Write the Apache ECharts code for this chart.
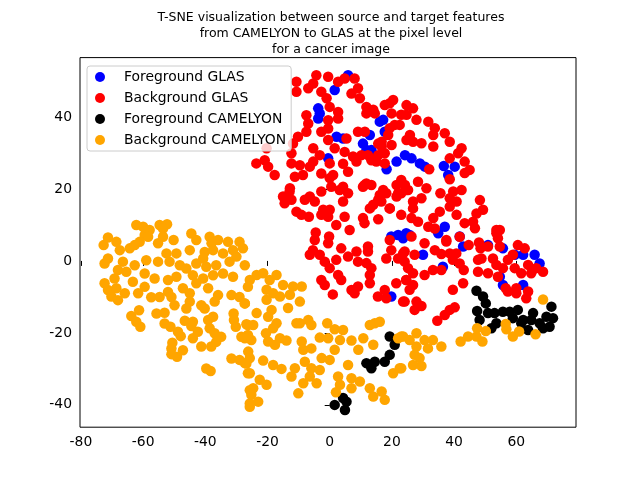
<!DOCTYPE html>
<html><head><meta charset="utf-8">
<script src="https://cdn.jsdelivr.net/npm/echarts@6/dist/echarts.min.js"></script>
<style>html,body{margin:0;padding:0;background:#fff}#c{width:640px;height:480px}</style>
</head><body><div id="c"></div>
<script>
const titleLines = ["T-SNE visualization between source and target features","from CAMELYON to GLAS at the pixel level","for a cancer image"];
const seriesNames = ["Foreground GLAS","Background GLAS","Foreground CAMELYON","Background CAMELYON"];
const seriesColors = ["#0000ff","#ff0000","#000000","#ffa500"];
const xTicks = [-80,-60,-40,-20,0,20,40,60];
const yTicks = [-40,-20,0,20,40];
const foregroundGlas = [[25.7,7.2],[23.6,6.3],[42.9,4],[50.9,4.4],[55.7,3.5],[59.5,1.7],[62.2,1.7],[65.9,1.7],[67.5,-0.7],[54.7,-4.4],[55.7,-6.7],[62.2,-6.7],[36.4,-1.6],[30,1.7],[19.8,6.8],[22,7.2],[24.6,7.7],[19.8,-9.9],[-3.7,42.4],[-3.7,39.6],[-3.2,41],[2.2,34.5],[4.3,34],[10.7,32.6],[11.8,30.8],[13.4,30.8],[-0.5,28.5],[5.9,51.6],[1.6,47.5],[16.1,38.7],[17.2,39.2],[17.7,35.9],[12.9,35],[13.4,30.4],[18.3,25.5],[21.5,27.6],[24.2,29.4],[26.3,28.5],[29,27.1],[30.6,26.2],[36.7,26.4],[38.1,23.9],[40.2,26.2],[37,9.5],[34.9,7.7],[41.8,6.8]];
const backgroundGlas = [[-10.7,49.8],[-10.7,47],[-6.9,48],[-4.3,51.6],[-5.3,49.3],[-0.5,51.2],[2.7,49.8],[4.8,50.7],[8,50.7],[9.1,48],[-2.7,47],[-1,45.2],[0,42.8],[2.7,41.4],[2.7,39.6],[-0.5,39.1],[-2.7,35.9],[-0.5,36.8],[7,46.5],[9.7,45.2],[11.8,42.8],[11.8,41],[14.5,41],[-7.5,40.5],[-6.9,38.2],[-7.5,35.9],[-10.2,34.5],[-11.8,32.6],[-20.3,31.3],[-20.9,28],[-23.6,27.1],[-19.8,26.2],[-17.7,23.9],[-12.3,29.9],[-12.3,27.1],[-9.6,26.6],[-11.2,23.4],[-8.6,23.9],[-5.3,31.3],[-5.3,27.6],[-6.4,26.2],[-3.2,29.4],[-2.7,24.3],[0,27.1],[1.1,23.9],[0,23],[5.4,34],[-0.5,33.6],[1.6,31.3],[4.8,30.3],[7.5,29],[10.2,29.4],[8.6,27.6],[5.9,24.8],[4.3,27],[9.1,35.9],[11.3,35.9],[15.6,32.6],[15.6,29.4],[12.3,29.4],[11.8,21.5],[10.7,20.6],[-12.8,20.2],[4.3,20.6],
[19.3,43.8],[17.7,43.3],[20.4,44.7],[19.9,41],[14,42],[24.7,43.3],[26.8,42.4],[27.9,39.2],[24.7,40.6],[23,40.6],[20.9,37.8],[19.3,36.9],[22.5,37.8],[31.7,38.7],[33.8,36.9],[37,35.5],[38.6,33.1],[33.3,35],[25.8,35],[26.8,33.1],[29.5,32.7],[33.3,31.8],[24.7,33.6],[18.8,35],[16.7,33.1],[19.9,32.2],[17.7,29.9],[16.7,31.8],[13.4,28],[15,27.6],[17.7,27.1],[42.4,31.3],[41.3,29.9],[43.4,27.6],[38.6,28.5],[45,25.3],[43.4,24.4],[32,25.5],[38.6,22.7],[13.4,21.1],[17.2,19.7],[15.6,17],[14,15.6],[23,22.5],[21.5,21.1],[24.2,21.1],[21.5,17.9],[19.3,14.6],[23,18.8],[25.2,19.7],[28.4,22],[31.1,20.2],[29.5,17.4],[26.8,16.5],[26.8,14.6],[35.6,18.8],[38.6,17.4],[42.4,19.7],[39.7,19.3],[40.8,16.5],[38.6,15.1],[15.6,11.6],[23,12.8],[26.3,11.9],[28.4,10.9],[33.3,11.9],[35.4,13.7],[31.7,9.5],[33.8,9],[40.8,12.8],[43.4,10.5],[46.7,9.1],[48.3,16.9],[49.3,14.2],[47.2,13.2],[46.1,10.9],[53.6,8.6],[54.7,8.6],[26.3,6.8],[37.5,5.8],
[-15,17.9],[-12.9,19.3],[-14.5,16],[-12.3,17],[-6.4,17.9],[-4.8,16.5],[-8,17],[-10.7,13.7],[-9.1,12.8],[-6.7,12.3],[-2.1,14.2],[0,14.2],[-0.5,12.3],[-2.7,12.8],[-2.7,19.3],[0.5,20.6],[3.2,19.7],[5.9,18.8],[4.3,16.5],[4.8,12.3],[2.1,10],[6.4,8.6],[11.2,21.1],[16.1,18.3],[18.2,18.8],[16.6,16.5],[19.3,14.6],[12.9,14.6],[10.7,11.9],[11.2,10.5],[22,18.8],[24.6,19.7],[-4.5,7.9],[-4.8,5.8],[-0.2,6.8],[-0.5,4.9],[3.7,3.5],[8.6,2.6],[12.3,4],[12.3,2.6],[-5.4,3],[-6.4,1.7],[-3.2,1.7],[-1.6,-0.2],[2.1,0.3],[0,-2],[2.7,-3.9],[3.7,-5.3],[5.9,1.2],[9.1,-0.2],[11.8,-0.6],[13.4,-2],[12.9,-3.9],[12.9,-6.2],[-2.7,-5.3],[-1.6,-6.7],[1,-9.3],[7,-8.1],[9.1,-7.1],[8,-9],[15.5,-9.9],[17.7,-8.1],[18.2,-10.4],[19.3,5.8],[19.8,3],[18.2,0.7],[22,0.7],[24.1,2.6],[21.4,-6.2],[24.6,-5.3],[24.1,-11.3],[25.2,-2],
[23.6,2.1],[24.1,-0.2],[27.3,1.7],[30.5,4.9],[33.8,3],[35.9,1.9],[37.5,5.4],[38.6,2.1],[40.7,2.1],[39.6,0.3],[41.8,-0.7],[43.1,-2.5],[41.8,6.7],[44.7,4.4],[48,5.1],[48.5,3.5],[50.9,4],[54.7,4],[53.6,7.7],[54.1,6.3],[47.7,0.3],[48.8,0.7],[47.7,-3],[50.9,-3.4],[52.5,0.7],[53.6,-1.1],[55.7,-2],[57.3,0.3],[58.9,1.7],[54.1,-4.4],[60.5,4.4],[62.7,3.5],[59.5,-2],[61.6,-3.4],[63.8,-1.1],[64.8,-3.4],[66.4,-2],[68.6,-3],[56.6,-7.6],[57.3,-8.5],[60,-9],[60,-7.6],[63.8,-8.5],[63.2,-10.4],[33.2,-2.5],[35.9,-2.5],[30.5,-3.9],[26.8,-3.4],[24.6,-5.3],[26.8,-6.7],[25.7,-8],[42.9,-6.2],[39.6,-8],[23.6,-11.3],[27.9,-11.3],[27.3,-13.6],[29.5,-12.5],[40.2,-12.9],[38.6,-13.6],[37,-15],[34.6,-16.6]];
const foregroundCamelyon = [[19.3,-21],[20.9,-23.3],[19.3,-26.1],[17.7,-28],[14.5,-28],[11.8,-28.4],[13.4,-29.8],[4.3,-38.1],[1.6,-40],[4.9,-41.4],[5.4,-39.1],[47.2,-8.3],[49.3,-9.9],[50.2,-11.8],[47.4,-13.9],[48.2,-16.4],[50.9,-14.5],[53,-14.5],[53.6,-17.3],[52,-18.7],[55.7,-14.1],[57.9,-14.1],[60.5,-13.6],[58.9,-15.9],[62.2,-16.4],[65.4,-14.5],[64.8,-16.4],[63.8,-19.2],[67.5,-17.3],[69.7,-15.5],[71.3,-12.7],[71.8,-15.9],[70.7,-18.3],[68.6,-18.7],[61.6,-17.3]];
const backgroundCamelyon = [[-62.2,10],[-60,9.5],[-57.9,8.6],[-59.5,7.2],[-61.1,5.3],[-58.4,6.7],[-54.7,10],[-52.3,10.2],[-53.6,9],[-55.2,4.9],[-50.2,5.8],[-53.6,6.7],[-72.7,4.4],[-71.3,6.5],[-68.6,5.3],[-67.5,3],[-64.3,3.5],[-62.7,4.4],[-44.5,7.6],[-42.9,5.8],[-45,3],[-38.6,6.7],[-35.9,5.8],[-38,4.9],[-40.2,2.5],[-37.5,3],[-40.7,0.7],[-32.7,5.3],[-29,5.3],[-27.9,3.5],[-31.1,3],[-34.3,2.1],[-30,1.2],[-32.2,-0.2],[-27.3,-1.2],[-71.3,0.7],[-72.4,-0.7],[-66.5,-0.2],[-68.1,-2.5],[-69.2,-4.9],[-65.4,-3],[-62.7,-1.2],[-59,0.2],[-55.2,-0.2],[-52.5,2.1],[-49.3,2.1],[-51.5,-0.2],[-48.2,-1.2],[-46.1,-2.1],[-42.9,-0.7],[-39.7,-1.6],[-36.5,-1.2],[-34.3,-3.5],[-31.1,-4.4],[-37.5,-4],[-40.7,-4.9],[-44,-4],[-49.3,-4.4],[-52,-5.3],[-56.3,-4.9],[-59.5,-3.5],[-72.4,-6.2],[-71.3,-8.1],[-70.2,-9.9],[-68.1,-10.9],[-68.6,-7.6],[-65.9,-9],[-63.3,-5.8],[-59.5,-7.2],[-61.6,-9],[-57.4,-10.1],[-54.7,-10],[-52,-8.6],[-50.9,-10],[-47.2,-7.6],[-45,-9],[-42.9,-6.2],[-39.1,-7.6],[-35.9,-9.5],[-37,-11.3],[-45,-11.3],[-46.1,-13.2],[-49.9,-12.3],[-41.3,-12.3],[-40.2,-13.2],[-31.6,-9.5],[-29,-10],[-27.3,-11.8],[-26.3,-7.2],[-61.3,-13.7],[-63.8,-15.3],[-62.2,-16.9],[-60.9,-18.3],[-55.7,-14.6],[-53.1,-14.4],[-53.1,-17.4],[-51.2,-18.3],[-48.8,-19.7],[-47.9,-20.9],[-46.6,-16.6],[-44,-16.9],[-44.5,-18.1],[-42.4,-19.7],[-44,-21.5],[-39.1,-16.4],[-37.5,-15.5],[-38.6,-18.7],[-37,-20.1],[-34.9,-21.1],[-36.5,-22.5],[-38.1,-23.8],[-41.3,-23.8],[-30.9,-14.6],[-30.8,-16.4],[-30.2,-18.3],[-26.3,-17.8],[-28.4,-21.1],[-26.3,-20.6],[-50.6,-22.7],[-50.9,-24.3],[-50.9,-25.9],[-49.1,-26.6],[-47.2,-24.8],[-39.7,-29.9],[-38.3,-30.6],[-31.6,-27.1],[-29,-27.5],[-26.8,-28.5],[-26.3,-31.2],[-25.7,-35.9],[-25.7,-39.6],
[-27.3,-11.8],[-23.5,-3.9],[-25.7,-5.3],[-21.4,-3.4],[-17.1,-3.9],[-19.3,-5.3],[-15,-6.7],[-11.8,-7.1],[-9,-7.1],[-20.3,-8],[-18.2,-9],[-20.3,-10.8],[-16,-9.9],[-12.8,-9.4],[-9.6,-11.3],[-13.4,-13.1],[-23.5,-14.5],[-18.7,-13.6],[-19.8,-15.5],[-17.1,-17.3],[-18.2,-18.7],[-24.6,-17.8],[-26.8,-17.6],[-20.5,-20.1],[-19.8,-22.4],[-17.6,-23.3],[-16,-21.5],[-13.9,-22.1],[-27.3,-21.5],[-25.2,-22],[-26.2,-25.2],[-25.7,-27],[-27.3,-28.4],[-25.7,-31.2],[-21.4,-27.7],[-18.2,-28.9],[-15.5,-30],[-11.2,-29.8],[-12.3,-32.1],[-22.5,-33],[-20.3,-34.4],[-24.6,-35.4],[-25.2,-37.2],[-23,-39.1],[-25.7,-40.5],[-9.6,-17.3],[-6.9,-16.4],[-10.7,-17.3],[-5.9,-17.8],[-0.8,-17.3],[1.6,-19],[4.3,-19.2],[-3.2,-21.3],[-0.5,-21.5],[3.3,-22],[7,-22.1],[9.2,-24.7],[10.8,-21.5],[14,-23.3],[-9,-22.4],[-8.5,-24.7],[-5.9,-24.3],[1.6,-24.7],[0,-27.5],[-2.6,-27],[-8,-28],[5.9,-28.9],[-5.9,-29.8],[-3.2,-30.3],[-6.4,-32.1],[-8.5,-34],[-10.1,-36.8],[-4.2,-34],[2.7,-32.1],[3.3,-34.4],[7,-32.6],[7,-35.4],[9.7,-33.5],[12.9,-35.4],[14,-37.7],[16.7,-36.3],[17.7,-38.6],[2,-36.5],[22,-21.5],[23.6,-21],[20.4,-31.2],[22.5,-29.8],[14.5,-17.3],[12.9,-17.8],[16.1,-16.9],
[23,-21],[27.9,-20.1],[30.5,-22],[33.2,-22],[35.9,-23.8],[27.9,-23.8],[31.6,-24.3],[27.3,-26.1],[28.9,-27],[26.8,-28.9],[29.5,-29.2],[23,-29.8],[25.7,-22],[42.1,-22.4],[44.5,-21],[47.2,-21],[49.1,-22.4],[47.4,-18.7],[50.2,-19.5],[56.6,-17.5],[56.8,-19],[58.9,-21],[60.9,-19.6],[66.2,-20.4],[68.6,-10.7]];

const seriesData = [foregroundGlas, backgroundGlas, foregroundCamelyon, backgroundCamelyon];
const axisBase = {
  type: 'value', interval: 20, splitLine: {show: false}, axisLine: {show: false},
  axisTick: {show: true, inside: false, length: 5, lineStyle: {color: '#000', width: 1}},
  axisLabel: {show: true, color: '#000', fontFamily: 'DejaVu Sans', fontSize: 13.9, margin: 8}
};
const chart = echarts.init(document.getElementById('c'), null, {renderer: 'canvas'});
chart.setOption({
  animation: false,
  backgroundColor: '#fff',
  title: {text: titleLines.join('\n'), left: 326, top: 5, textAlign: 'center',
    textStyle: {fontFamily: 'DejaVu Sans', fontSize: 12.5, fontWeight: 'normal', color: '#000', lineHeight: 16}},
  grid: {left: 80, right: 64, top: 57.6, bottom: 52.8, show: true, borderColor: '#000', borderWidth: 1, backgroundColor: 'transparent'},
  xAxis: Object.assign({}, axisBase, {min: -80.3, max: 79.2,
    axisTick: Object.assign({}, axisBase.axisTick, {customValues: xTicks}),
    axisLabel: Object.assign({}, axisBase.axisLabel, {customValues: xTicks})}),
  yAxis: Object.assign({}, axisBase, {min: -46.2, max: 56.5,
    axisTick: Object.assign({}, axisBase.axisTick, {customValues: yTicks}),
    axisLabel: Object.assign({}, axisBase.axisLabel, {customValues: yTicks})}),
  legend: {
    orient: 'vertical', left: 87, top: 66, icon: 'circle', itemWidth: 24, itemHeight: 10, itemGap: 7,
    padding: [4, 5, 4, 8], backgroundColor: 'rgba(255,255,255,0.8)', borderColor: '#ccc', borderWidth: 1, borderRadius: 3,
    textStyle: {fontFamily: 'DejaVu Sans', fontSize: 13.9, color: '#000', padding: [0, 0, 0, 7]},
    selectedMode: false, data: seriesNames
  },
  series: seriesNames.map((name, i) => ({
    name, type: 'scatter', data: seriesData[i], symbol: 'circle', symbolSize: 10.5,
    itemStyle: {color: seriesColors[i], opacity: 1}, silent: true, z: 2 + i * 0 , zlevel: 0
  }))
});
</script></body></html>
